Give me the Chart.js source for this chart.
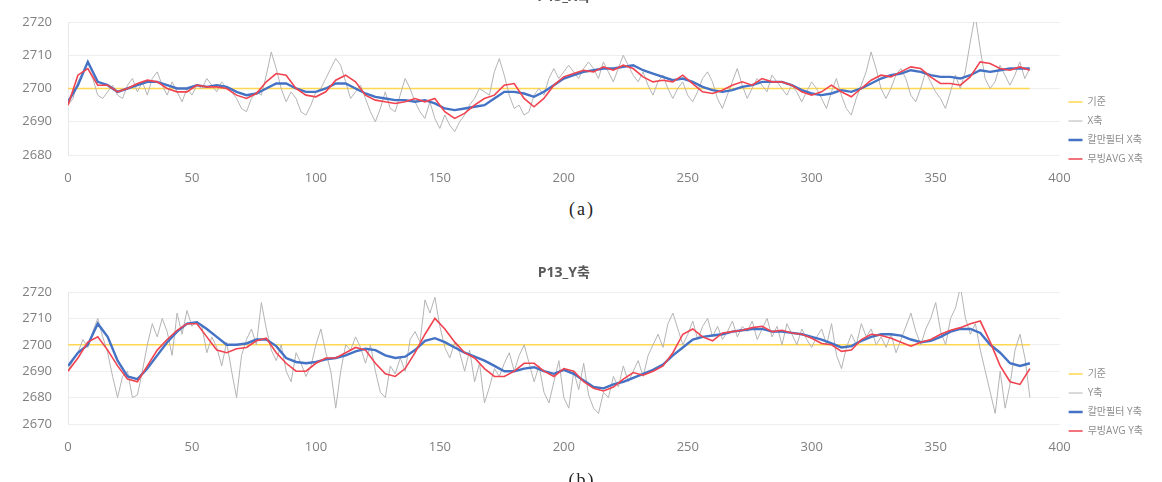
<!DOCTYPE html>
<html>
<head>
<meta charset="utf-8">
<script src="https://cdn.jsdelivr.net/npm/chart.js@4"></script>
<style>
    body { margin: 0; background: #fff; width: 1162px; height: 482px; overflow: hidden; position: relative; }
    .box { position: absolute; left: 0; width: 1162px; }
    #boxA { top: -40px; height: 230px; }
    #boxB { top: 236px; height: 236px; }
    .cap { position: absolute; left: 532px; width: 100px; text-align: center; font-family: 'Liberation Serif', serif; font-size: 18px; letter-spacing: 2px; color: #222; height: 20px; line-height: 20px; }
</style>
</head>
<body>
<div class="box" id="boxA"><canvas id="chartA" width="1162" height="230"></canvas></div>
<div class="box" id="boxB"><canvas id="chartB" width="1162" height="236"></canvas></div>
<div class="cap" style="top:199px">(a)</div>
<div class="cap" style="top:470px">(b)</div>
<script>
// x positions: raw series read every 2 samples, filtered series every 4
const rawStep = 2;
const fltStep = 4;
const refLevel = 2700;
const seriesNames = ['기준', 'X축', '칼만필터 X축', '무빙AVG X축'];
const seriesNamesB = ['기준', 'Y축', '칼만필터 Y축', '무빙AVG Y축'];

// (a) P13_X축
const rawX = [
    2695, 2697, 2702, 2705, 2706, 2703, 2698, 2697, 2699, 2701, 2698,
    2697, 2701, 2703, 2699, 2702, 2698, 2703, 2705, 2701, 2698,
    2702, 2699, 2696, 2700, 2698, 2701, 2700, 2703, 2701, 2699,
    2702, 2700, 2699, 2697, 2694, 2693, 2697, 2699, 2698, 2704,
    2711, 2706, 2700, 2696, 2699, 2697, 2693, 2692, 2695, 2699,
    2700, 2703, 2706, 2709, 2707, 2702, 2697, 2699, 2701, 2697,
    2693, 2690, 2694, 2699, 2694, 2693, 2698, 2703, 2700, 2696,
    2693, 2691, 2696, 2691, 2688, 2692, 2689, 2687, 2690, 2692,
    2695, 2697, 2700, 2699, 2698, 2705, 2709, 2704, 2698, 2694,
    2695, 2692, 2693, 2698, 2700, 2698, 2703, 2706, 2703, 2705,
    2707, 2705, 2703, 2706, 2708, 2706, 2703, 2708, 2705, 2702,
    2706, 2710, 2707, 2704, 2702, 2705, 2701, 2698, 2702, 2704,
    2700, 2697, 2700, 2702, 2698, 2696, 2699, 2703, 2705, 2702,
    2697, 2694, 2698, 2702, 2706, 2701, 2697, 2700, 2703, 2701,
    2699, 2704, 2702, 2700, 2698, 2701, 2699, 2696, 2699, 2702,
    2700, 2697, 2694, 2699, 2703, 2698, 2694, 2692, 2697, 2701,
    2705, 2711, 2706, 2700, 2697, 2700, 2704, 2706, 2703, 2698,
    2696, 2700, 2705, 2702, 2699, 2697, 2694, 2699, 2704, 2700,
    2705, 2714, 2722, 2712, 2703, 2700, 2702, 2707, 2704, 2701,
    2704, 2708, 2703, 2706
];
const kalmanX = [
    2696, 2701, 2708, 2702, 2701, 2699, 2700, 2701, 2702, 2702,
    2701, 2700, 2700, 2701, 2700.5, 2701, 2700.5, 2699, 2698, 2698.5,
    2700, 2701.5, 2701.5, 2700, 2699, 2699, 2700, 2701.5, 2701.5, 2700,
    2698.5, 2697.5, 2697, 2696.5, 2696.5, 2696, 2696.5, 2695.5, 2694, 2693.5,
    2694, 2694.5, 2695, 2697, 2699, 2699, 2698.5, 2697.5, 2699, 2701,
    2703, 2704, 2705, 2705.5, 2706, 2706, 2706.5, 2707, 2705.5, 2704.5,
    2703.5, 2702.5, 2703, 2702, 2700.5, 2699.5, 2699, 2699.5, 2700.5, 2701,
    2702, 2702, 2702, 2701, 2699.5, 2698.5, 2698, 2698.5, 2699.5, 2699,
    2700, 2701.5, 2703, 2704, 2704.5, 2705.5, 2705, 2704, 2703.5, 2703.5,
    2703, 2704, 2705.5, 2705, 2705.5, 2706, 2706, 2706
];
const movAvgX = [
    2695, 2704, 2706, 2701, 2701, 2699, 2700, 2701.5, 2702.5, 2702,
    2700, 2699, 2699, 2701, 2700.5, 2700.5, 2700, 2698, 2697, 2698.5,
    2702, 2704.5, 2704, 2700, 2698, 2697.5, 2699, 2702.5, 2704, 2702,
    2698, 2696.5, 2696, 2695.5, 2696, 2697, 2696, 2697, 2693, 2691,
    2692.5, 2695, 2697, 2698, 2701, 2701.5, 2697, 2694.5, 2697, 2701,
    2703.5, 2704.5, 2705.5, 2705, 2706.5, 2705.5, 2707, 2706, 2703.5, 2702,
    2702.5, 2702, 2704, 2701.5, 2699, 2698.5, 2699.5, 2701, 2702, 2701,
    2703, 2702, 2702, 2701, 2699, 2698, 2699, 2701, 2699, 2697.5,
    2700, 2702.5, 2704, 2703.5, 2705, 2706.5, 2706, 2703.5, 2701.5, 2701.5,
    2701, 2703.5, 2708, 2707.5, 2706, 2705.5, 2706.5, 2705.5
];

// (b) P13_Y축
const rawY = [
    2690, 2694, 2697, 2702, 2699, 2705, 2710, 2703, 2697, 2688, 2680,
    2688, 2690, 2680, 2681, 2690, 2700, 2708, 2703, 2710, 2705,
    2696, 2712, 2704, 2713, 2707, 2709, 2707, 2697, 2703, 2699,
    2692, 2701, 2690, 2680, 2696, 2702, 2706, 2700, 2716, 2706,
    2698, 2694, 2700, 2690, 2686, 2697, 2693, 2688, 2692, 2700,
    2706, 2697, 2690, 2676, 2690, 2700, 2698, 2703, 2699, 2693,
    2700, 2690, 2682, 2680, 2692, 2689, 2695, 2690, 2702, 2705,
    2701, 2717, 2712, 2718, 2707, 2699, 2695, 2701, 2697, 2690,
    2698, 2686, 2693, 2678, 2684, 2691, 2688, 2693, 2697, 2690,
    2696, 2700, 2693, 2686, 2692, 2682, 2678, 2686, 2694, 2680,
    2676, 2690, 2683, 2693, 2681, 2676, 2674, 2682, 2680, 2688,
    2684, 2692, 2686, 2690, 2694, 2688, 2696, 2700, 2704, 2699,
    2708, 2712, 2706, 2700, 2704, 2709, 2702, 2707, 2710, 2703,
    2707, 2702, 2705, 2709, 2703, 2707, 2705, 2709, 2702, 2706,
    2710, 2703, 2707, 2700, 2708, 2704, 2700, 2706, 2702, 2699,
    2703, 2706, 2700, 2708, 2696, 2691, 2699, 2704, 2700, 2708,
    2703, 2706, 2700, 2703, 2699, 2704, 2697, 2702, 2707, 2712,
    2705, 2700, 2706, 2710, 2716, 2705, 2700, 2710, 2714, 2722,
    2710, 2704, 2708, 2698, 2690, 2682, 2674, 2690, 2676, 2685,
    2698, 2704, 2695, 2680
];
const kalmanY = [
    2692, 2697, 2700, 2708, 2703, 2694, 2688, 2687, 2691, 2696,
    2701, 2705, 2708, 2708.5, 2706, 2703, 2700, 2700, 2700.5, 2702,
    2702, 2699.5, 2695, 2693.5, 2693, 2693.5, 2694.5, 2695, 2696, 2697.5,
    2698.5, 2698, 2696, 2695, 2695.5, 2698, 2701.5, 2702.5, 2701, 2699,
    2697, 2695.5, 2694, 2692, 2690, 2690, 2691, 2691.5, 2690, 2689,
    2690.5, 2689, 2686.5, 2684, 2683.5, 2685, 2686, 2687.5, 2689, 2690.5,
    2692.5, 2696, 2699, 2702, 2703, 2703.5, 2704, 2705, 2705.5, 2706,
    2706, 2705, 2705, 2704.5, 2704, 2703, 2702, 2700.5, 2699, 2699.5,
    2701.5, 2703, 2704, 2704, 2703.5, 2702, 2701, 2701.5, 2703, 2705,
    2706, 2706, 2704.5, 2700, 2697, 2693, 2692, 2693
];
const movAvgY = [
    2690, 2695, 2701, 2703, 2698, 2692, 2687, 2686, 2692, 2698,
    2702, 2705.5, 2708, 2708, 2703, 2698, 2697, 2698.5, 2699, 2701.5,
    2702.5, 2697, 2693, 2690, 2690, 2693, 2695, 2695, 2697, 2699,
    2698, 2693, 2689, 2688, 2691, 2697, 2704, 2710, 2706, 2701,
    2697, 2695, 2691, 2688, 2688, 2690, 2693, 2693, 2690, 2688,
    2691, 2690, 2686, 2683.5, 2682.5, 2684, 2687, 2689.5, 2688.5, 2690,
    2692, 2697, 2704, 2706, 2703, 2701.5, 2704.5, 2705, 2705.5, 2706.5,
    2707, 2705, 2705.5, 2704.5, 2704, 2702.5, 2700.5, 2700, 2697.5, 2698,
    2702, 2704, 2703.5, 2702.5, 2701, 2699.5, 2701, 2702, 2704, 2705.5,
    2706.5, 2708, 2709, 2701, 2692, 2686, 2685, 2691
];

const yTicksA = [2680, 2720];
const yTicksB = [2670, 2720];

const FONT = "'Open Sans', 'Noto Sans CJK KR', sans-serif";

const toPoints = (values, step) => values.map((v, i) => ({x: i * step, y: v}));

const createAChart = (canvasId, title, names, raw, kalman, movAvg, yRange, lay) => {
    let ctx = document.getElementById(canvasId).getContext('2d');
    let lastX = (raw.length - 1) * rawStep;
    return new Chart(ctx, {
        type: 'line',
        data: {
            datasets: [
                {label: names[0], data: [{x: 0, y: refLevel}, {x: lastX, y: refLevel}], borderColor: '#ffd750', backgroundColor: '#ffd750', borderWidth: 1.6, order: 3},
                {label: names[1], data: toPoints(raw, rawStep), borderColor: '#b4b4b4', backgroundColor: '#b4b4b4', borderWidth: 1, order: 2},
                {label: names[2], data: toPoints(kalman, fltStep), borderColor: '#4472c4', backgroundColor: '#4472c4', borderWidth: 2.4, order: 1},
                {label: names[3], data: toPoints(movAvg, fltStep), borderColor: '#f0434f', backgroundColor: '#f0434f', borderWidth: 1.6, order: 0}
            ]
        },
        options: {
            responsive: false,
            animation: false,
            devicePixelRatio: 1,
            elements: {point: {radius: 0}, line: {tension: 0}},
            layout: {padding: {right: lay.padRight}},
            plugins: {
                tooltip: {enabled: false},
                title: {
                    display: true,
                    text: title,
                    fullSize: false,
                    color: '#595959',
                    font: {family: FONT, size: 14, weight: 'bold'},
                    padding: {top: lay.titleTop, bottom: lay.titleBottom}
                },
                legend: {
                    position: 'right',
                    align: 'start',
                    title: {display: true, text: '', font: {size: 10}, padding: {top: lay.legendTop, bottom: 0}},
                    labels: {
                        usePointStyle: true,
                        pointStyle: 'line',
                        pointStyleWidth: 14,
                        padding: 9,
                        color: '#8c8c8c',
                        font: {family: FONT, size: 10},
                        sort: (a, b) => a.datasetIndex - b.datasetIndex
                    }
                }
            },
            scales: {
                x: {
                    type: 'linear',
                    min: 0,
                    max: 400,
                    grid: {display: false},
                    border: {display: false},
                    ticks: {stepSize: 50, padding: 7, color: '#7f7f7f', font: {family: FONT, size: 13}},
                    afterFit: (scale) => { scale.height = lay.xHeight; }
                },
                y: {
                    min: yRange[0],
                    max: yRange[1],
                    grid: {color: '#eeeeee', drawTicks: false},
                    border: {display: true, color: '#e8e8e8'},
                    ticks: {stepSize: 10, padding: 16, color: '#7f7f7f', font: {family: FONT, size: 13},
                        callback: (v) => String(v)},
                    afterFit: (scale) => { scale.width = 68; }
                }
            }
        }
    });
};

createAChart('chartA', 'P13_X축', seriesNames, rawX, kalmanX, movAvgX, yTicksA,
    {titleTop: 28.6, titleBottom: 16.6, legendTop: 116, xHeight: 35, padRight: 9});
createAChart('chartB', 'P13_Y축', seriesNamesB, rawY, kalmanY, movAvgY, yTicksB,
    {titleTop: 28.6, titleBottom: 10.6, legendTop: 112, xHeight: 48, padRight: 9});
</script>
</body>
</html>
